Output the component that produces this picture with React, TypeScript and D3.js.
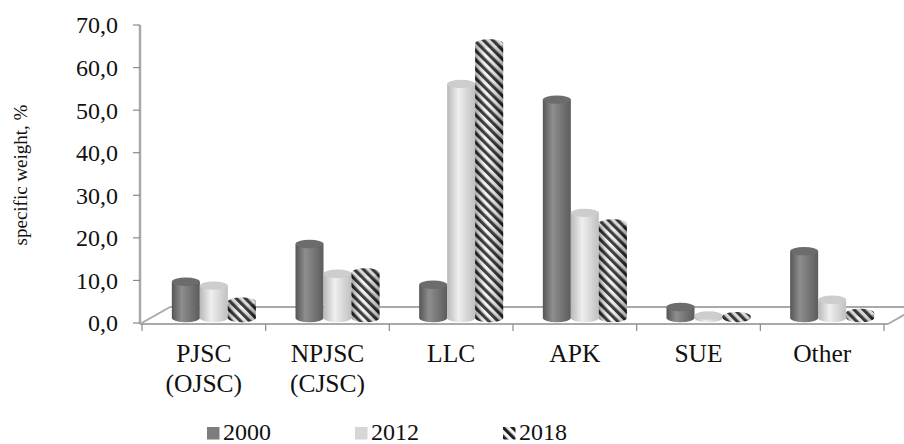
import React from "react";
import * as d3 from "d3";

const categories: string[][] = [
  ["PJSC", "(OJSC)"],
  ["NPJSC", "(CJSC)"],
  ["LLC"],
  ["APK"],
  ["SUE"],
  ["Other"],
];
const seriesNames = ["2000", "2012", "2018"];
const values2000 = [8.5, 17.4, 7.8, 51.3, 2.6, 15.7];
const values2012 = [7.6, 10.4, 55.0, 24.7, 0.6, 4.3];
const values2018 = [3.8, 10.7, 64.5, 22.2, 0.4, 1.2];
const yTicks = [0, 10, 20, 30, 40, 50, 60, 70];

const W = 904;
const H = 444;
const FONT = '"Liberation Serif", "Times New Roman", Times, serif';

export default function App() {
  const series = [values2000, values2012, values2018];
  const fills = ["url(#gDark)", "url(#gLight)", "url(#pHatch)"];
  const tops = ["#6c6c6c", "#cdcdcd", "url(#pHatch)"];

  const frontY = 324;
  const depthDx = 30;
  const depthDy = -17;
  const axisX = 140;
  const yAxis = d3.scaleLinear().domain([0, 70]).range([323, 25]);
  const barDx = 10;
  const barDy = -5;
  const yBar = d3.scaleLinear().domain([0, 70]).range([323 + barDy, 25 + barDy]);

  const xCat = d3
    .scaleBand<number>()
    .domain(categories.map((_, i) => i))
    .range([142, 884])
    .padding(0);
  const groupW = 84;
  const xSer = d3.scaleBand<number>().domain([0, 1, 2]).range([0, groupW]).padding(0);
  const bw = xSer.bandwidth();
  const rx = bw / 2;
  const ry = 4.2;

  const frontLeft = 140;
  const frontRight = 888;

  const cylinders: React.ReactNode[] = [];
  categories.forEach((_, ci) => {
    const cx = (xCat(ci) as number) + xCat.bandwidth() / 2 + barDx;
    const gx = cx - groupW / 2;
    series.forEach((vals, si) => {
      const x0 = gx + (xSer(si) as number);
      const yb = yBar(0);
      const yt = yBar(vals[ci]);
      const body = `M${x0},${yt} V${yb} A${rx},${ry} 0 0 0 ${x0 + bw},${yb} V${yt} Z`;
      cylinders.push(
        <g key={`${ci}-${si}`}>
          <path d={body} fill={fills[si]} />
          {si === 2 && <path d={body} fill="url(#gShade)" />}
          <ellipse cx={x0 + rx} cy={yt} rx={rx} ry={ry} fill={tops[si]} />
          {si === 2 && (
            <ellipse cx={x0 + rx} cy={yt} rx={rx} ry={ry} fill="#888" opacity={0.25} />
          )}
        </g>
      );
    });
  });

  const textStyle: React.CSSProperties = { fontFamily: FONT };

  return (
    <svg
      width={W}
      height={H}
      style={{ position: "absolute", left: 0, top: 0, background: "#fff", fontFamily: FONT }}
    >
      <defs>
        <linearGradient id="gDark" x1="0" x2="1" y1="0" y2="0">
          <stop offset="0" stopColor="#555" />
          <stop offset="0.35" stopColor="#8e8e8e" />
          <stop offset="1" stopColor="#5c5c5c" />
        </linearGradient>
        <linearGradient id="gLight" x1="0" x2="1" y1="0" y2="0">
          <stop offset="0" stopColor="#b8b8b8" />
          <stop offset="0.4" stopColor="#efefef" />
          <stop offset="1" stopColor="#c0c0c0" />
        </linearGradient>
        <linearGradient id="gShade" x1="0" x2="1" y1="0" y2="0">
          <stop offset="0" stopColor="#000" stopOpacity="0.35" />
          <stop offset="0.4" stopColor="#fff" stopOpacity="0.15" />
          <stop offset="1" stopColor="#000" stopOpacity="0.35" />
        </linearGradient>
        <pattern
          id="pHatch"
          width="6.5"
          height="6.5"
          patternUnits="userSpaceOnUse"
          patternTransform="rotate(-45)"
        >
          <rect width="6.5" height="6.5" fill="#f4f4f4" />
          <rect width="3.2" height="6.5" fill="#1e1e1e" />
        </pattern>
      </defs>

      <g stroke="#a9a9a9" strokeWidth={2} fill="none">
        <line x1={frontLeft} y1={frontY} x2={frontRight} y2={frontY} />
        <line x1={frontLeft + depthDx} y1={frontY + depthDy} x2={frontRight + depthDx} y2={frontY + depthDy} />
        <line x1={frontLeft} y1={frontY} x2={frontLeft + depthDx} y2={frontY + depthDy} />
        <line x1={frontRight} y1={frontY} x2={frontRight + depthDx} y2={frontY + depthDy} />
      </g>

      <line x1={axisX} y1={yAxis(70)} x2={axisX} y2={frontY} stroke="#a9a9a9" strokeWidth={2.5} />
      {yTicks.map((t) => (
        <g key={t}>
          <line x1={axisX - 7} x2={axisX} y1={yAxis(t)} y2={yAxis(t)} stroke="#8a8a8a" strokeWidth={1.2} />
          <text
            x={118}
            y={yAxis(t)}
            dy="0.35em"
            textAnchor="end"
            fontSize={24}
            fill="#111"
            style={textStyle}
          >
            {t.toFixed(1).replace(".", ",")}
          </text>
        </g>
      ))}
      <text
        transform={`translate(27,175) rotate(-90)`}
        textAnchor="middle"
        fontSize={19}
        fill="#111"
        style={textStyle}
      >
        specific weight, %
      </text>

      {d3.range(categories.length + 1).map((i) => {
        const x = 142 + i * xCat.bandwidth();
        return <line key={i} x1={x} x2={x} y1={frontY} y2={frontY + 7} stroke="#8a8a8a" strokeWidth={1.2} />;
      })}

      {cylinders}

      {categories.map((lines, i) => (
        <text
          key={i}
          x={(xCat(i) as number) + xCat.bandwidth() / 2}
          y={362}
          textAnchor="middle"
          fontSize={25.5}
          fill="#111"
          style={textStyle}
        >
          {lines.map((l, j) => (
            <tspan key={j} x={(xCat(i) as number) + xCat.bandwidth() / 2} dy={j === 0 ? 0 : 29.5}>
              {l}
            </tspan>
          ))}
        </text>
      ))}

      {seriesNames.map((name, i) => {
        const lx = [207, 355, 503][i];
        const sw = ["#7d7d7d", "#d6d6d6", "url(#pHatch)"][i];
        return (
          <g key={name}>
            <rect x={lx} y={427} width={12.5} height={12.5} fill={sw} />
            <text x={lx + 16} y={440} fontSize={24} fill="#111" style={textStyle}>
              {name}
            </text>
          </g>
        );
      })}
    </svg>
  );
}
